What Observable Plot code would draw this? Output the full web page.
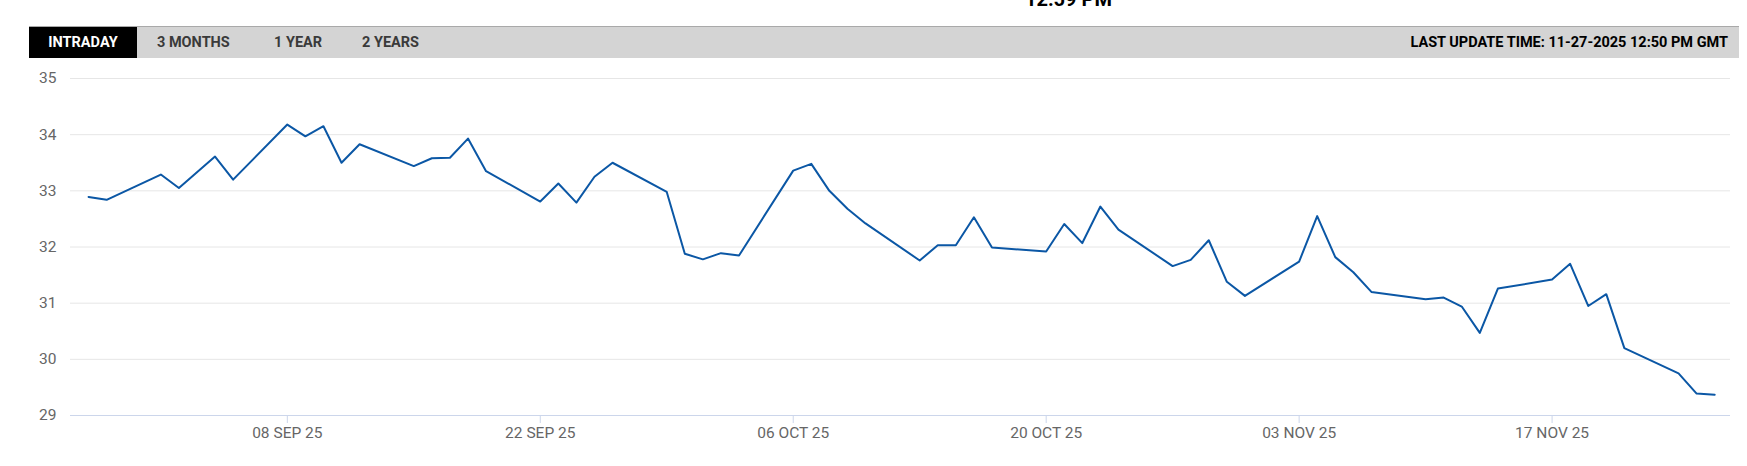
<!DOCTYPE html>
<html>
<head>
<meta charset="utf-8">
<script src="https://cdn.jsdelivr.net/npm/d3@7"></script>
<script src="https://cdn.jsdelivr.net/npm/@observablehq/plot@0.6"></script>
<style>
  html, body { margin: 0; padding: 0; background: #fff; }
  body { width: 1747px; height: 466px; overflow: hidden; position: relative; font-family: Roboto, "Liberation Sans", sans-serif; }
  #toptime { position: absolute; left: 1025px; top: -11px; font: 700 20px/20px Roboto, sans-serif; color: #000; white-space: nowrap; }
  #bar { position: absolute; left: 29px; top: 26px; width: 1710px; height: 31px; background: #d4d4d4; border-top: 1px solid #a9a9a9; }
  .tab { position: absolute; top: 0; height: 31px; line-height: 31px; font-weight: 700; font-size: 14.5px; color: #3a3a3a; letter-spacing: 0; white-space: nowrap; }
  .tab.active { left: 0; width: 108px; background: #000; color: #fff; text-align: center; }
  #upd { position: absolute; right: 11px; top: 0; height: 31px; line-height: 31px; font-weight: 700; font-size: 14.5px; color: #000; letter-spacing: 0; white-space: nowrap; }
  #chart { position: absolute; left: 0; top: 60px; }
</style>
</head>
<body>
<div id="toptime">12:59 PM</div>
<div id="bar">
  <div class="tab active">INTRADAY</div>
  <div class="tab" style="left:128px">3 MONTHS</div>
  <div class="tab" style="left:245px">1 YEAR</div>
  <div class="tab" style="left:333px">2 YEARS</div>
  <div id="upd">LAST UPDATE TIME: 11-27-2025 12:50 PM GMT</div>
</div>
<div id="chart"></div>
<script>
const dates = [
  "2025-08-28","2025-08-29","2025-09-01","2025-09-02","2025-09-04","2025-09-05",
  "2025-09-08","2025-09-09","2025-09-10","2025-09-11","2025-09-12",
  "2025-09-15","2025-09-16","2025-09-17","2025-09-18","2025-09-19",
  "2025-09-22","2025-09-23","2025-09-24","2025-09-25","2025-09-26",
  "2025-09-29","2025-09-30","2025-10-01","2025-10-02","2025-10-03",
  "2025-10-06","2025-10-07","2025-10-08","2025-10-09","2025-10-10",
  "2025-10-13","2025-10-14","2025-10-15","2025-10-16","2025-10-17",
  "2025-10-20","2025-10-21","2025-10-22","2025-10-23","2025-10-24",
  "2025-10-27","2025-10-28","2025-10-29","2025-10-30","2025-10-31",
  "2025-11-03","2025-11-04","2025-11-05","2025-11-06","2025-11-07",
  "2025-11-10","2025-11-11","2025-11-12","2025-11-13","2025-11-14",
  "2025-11-17","2025-11-18","2025-11-19","2025-11-20","2025-11-21",
  "2025-11-24","2025-11-25","2025-11-26"
];
const prices = [
  32.89, 32.84, 33.29, 33.05, 33.61, 33.20,
  34.18, 33.97, 34.15, 33.50, 33.83,
  33.44, 33.58, 33.59, 33.93, 33.35,
  32.81, 33.13, 32.79, 33.25, 33.50,
  32.98, 31.88, 31.78, 31.89, 31.85,
  33.36, 33.48, 33.00, 32.68, 32.42,
  31.76, 32.03, 32.03, 32.53, 31.99,
  31.92, 32.41, 32.07, 32.72, 32.31,
  31.66, 31.77, 32.12, 31.38, 31.13,
  31.74, 32.55, 31.82, 31.55, 31.20,
  31.07, 31.10, 30.94, 30.47, 31.26,
  31.42, 31.70, 30.95, 31.16, 30.20,
  29.75, 29.39, 29.37
];
const xTickDates = ["2025-09-08","2025-09-22","2025-10-06","2025-10-20","2025-11-03","2025-11-17"];
const yTicks = [29, 30, 31, 32, 33, 34, 35];
const xDomain = ["2025-08-27T00:00Z", "2025-11-26T21:00Z"];

const parse = d3.utcParse("%Y-%m-%d");
const data = dates.map((d, i) => ({date: parse(d), price: prices[i]}));
const fmt = d3.utcFormat("%d %b %y");

const chart = Plot.plot({
  width: 1747,
  height: 406,
  marginLeft: 70,
  marginRight: 17,
  marginTop: 18,
  marginBottom: 51,
  style: {fontFamily: "Roboto, sans-serif", fontSize: "15.5px", color: "#666", background: "#fff", overflow: "visible"},
  x: {type: "utc", domain: xDomain.map(d => new Date(d)), label: null},
  y: {domain: [29, 35], label: null},
  marks: [
    Plot.gridY(yTicks, {stroke: "#e6e6e6", strokeOpacity: 1}),
    Plot.ruleY([29], {stroke: "#ccd6eb", strokeOpacity: 1}),
    Plot.axisY({ticks: yTicks, tickSize: 0, tickPadding: 14, fill: "#666", label: null, tickFormat: d => String(d)}),
    Plot.axisX({ticks: xTickDates.map(parse), tickFormat: d => fmt(d).toUpperCase(), tickSize: 8, tickPadding: 3, stroke: "#ccd6eb", strokeOpacity: 1, fill: "#666", label: null}),
    Plot.lineY(data, {x: "date", y: "price", stroke: "#0b57a5", strokeWidth: 2})
  ]
});
document.getElementById("chart").appendChild(chart);
</script>
</body>
</html>
